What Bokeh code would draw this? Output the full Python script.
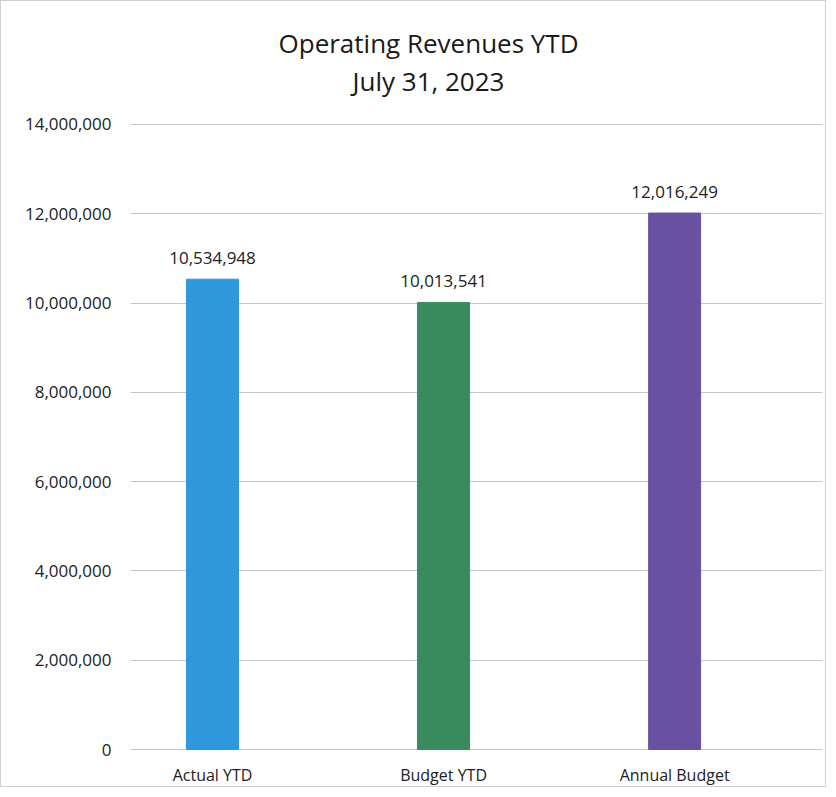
from bokeh.plotting import figure
from bokeh.models import ColumnDataSource, Range1d, FixedTicker, NumeralTickFormatter, Title
from bokeh.core.properties import value
from bokeh.embed import file_html
from bokeh.resources import INLINE

categories = ["Actual YTD", "Budget YTD", "Annual Budget"]
values = [10534948, 10013541, 12016249]
colors = ["#2E98DA", "#3A8A60", "#6A50A0"]
y_ticks = [0, 2000000, 4000000, 6000000, 8000000, 10000000, 12000000, 14000000]
title_lines = ["Operating Revenues YTD", "July 31, 2023"]

xs = [i + 0.5 for i in range(len(categories))]
src = ColumnDataSource(dict(x=xs, top=values, color=colors,
                            label=[f"{v:,}" for v in values]))

FONT = "Open Sans"
pad = 22364
p = figure(width=826, height=787, output_backend="svg", toolbar_location=None,
           x_range=Range1d(0.145, 3.14), y_range=Range1d(-pad, 14000000 + pad),
           min_border_left=129, min_border_right=5, min_border_top=122,
           min_border_bottom=37)
p.styles = {"border": "1px solid #cfcfcf"}
p.outline_line_color = None
p.background_fill_color = "white"
p.border_fill_color = "white"

p.vbar(x="x", top="top", width=0.225, color="color", source=src)
p.text(x="x", y="top", text="label", source=src, y_offset=-15,
       text_align="center", text_baseline="bottom",
       text_font=value(FONT), text_font_size="17px", text_color="#222222")

p.xaxis.ticker = FixedTicker(ticks=xs)
p.xaxis.major_label_overrides = {x: c for x, c in zip(xs, categories)}
p.yaxis.ticker = FixedTicker(ticks=y_ticks)
p.yaxis.formatter = NumeralTickFormatter(format="0,0")
for ax in (p.xaxis[0], p.yaxis[0]):
    ax.axis_line_color = None
    ax.major_tick_line_color = None
    ax.minor_tick_line_color = None
    ax.major_label_text_font = FONT
    ax.major_label_text_color = "#222222"
p.xaxis.major_label_text_font_size = "16px"
p.yaxis.major_label_text_font_size = "17px"
p.xaxis.major_label_standoff = 7
p.yaxis.major_label_standoff = 13
p.xgrid.grid_line_color = None
p.ygrid.grid_line_color = "#c4c4c4"
p.ygrid.grid_line_width = 1

# spacer between the frame and the title lines
p.add_layout(Title(text=" ", standoff=12, text_font_size="10px"), "above")
p.add_layout(Title(text=title_lines[1], align="left", offset=222, standoff=0,
                   text_font=FONT, text_font_size="26px", text_font_style="normal",
                   text_color="#1a1a1a"), "above")
p.add_layout(Title(text=title_lines[0], align="left", offset=148, standoff=0,
                   text_font=FONT, text_font_size="26px", text_font_style="normal",
                   text_color="#1a1a1a"), "above")

open("out.html", "w").write(file_html(p, INLINE))
